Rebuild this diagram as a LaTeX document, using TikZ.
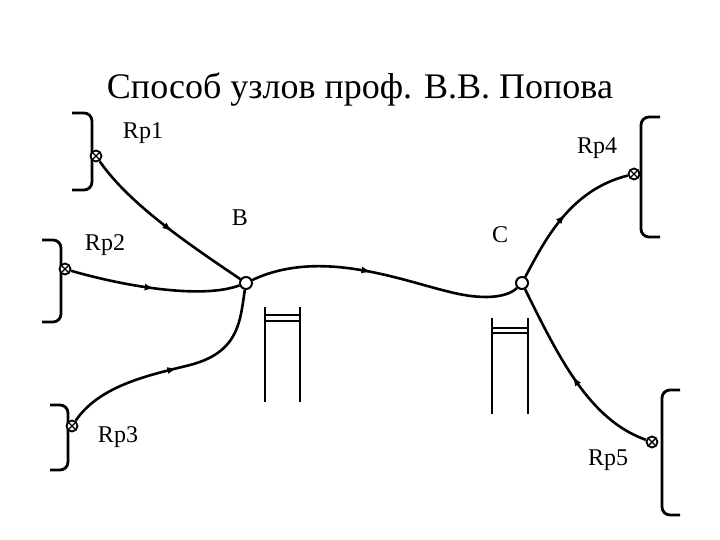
\documentclass[tikz,border=0pt]{standalone}
\usepackage{fontspec}
\setmainfont{Liberation Serif}
\usetikzlibrary{decorations.markings,arrows.meta}
\begin{document}
\begin{tikzpicture}[x=1pt,y=-1pt,
 line/.style={line width=2.6pt},
 flow/.style={line width=2.6pt,postaction={decorate},decoration={markings,mark=at position #1 with {\arrow{Latex[length=10pt,width=7pt]}}}},
 junction/.style={circle,draw,fill=white,line width=2pt,inner sep=0pt,minimum size=12pt},
 well/.style={circle,draw,fill=white,line width=1.8pt,inner sep=0pt,minimum size=11pt,path picture={\draw[line width=1.4pt] (path picture bounding box.north west)--(path picture bounding box.south east) (path picture bounding box.north east)--(path picture bounding box.south west);}},
 lbl/.style={font=\fontsize{24}{28}\selectfont},
 brk/.style={line width=2.8pt,rounded corners=8pt}]
\useasboundingbox (0,0) rectangle (720,540);
\node[font=\fontsize{36}{42}\selectfont] (title) at (360,90) {Способ узлов проф. В.В. Попова};
% brackets
\draw[brk] (72,113) -- (92,113) -- (92,190) -- (72,190);
\draw[brk] (42,240) -- (61,240) -- (61,322) -- (42,322);
\draw[brk] (50,405) -- (68,405) -- (68,470) -- (50,470);
\draw[brk] (660,117) -- (641,117) -- (641,237) -- (660,237);
\draw[brk] (680,390) -- (662,390) -- (662,515) -- (680,515);
% nodes
\node[junction] (B) at (246,283) {};
\node[junction] (C) at (522,283) {};
\node[well] (R1) at (96,156) {};
\node[well] (R2) at (65,269) {};
\node[well] (R3) at (72,426) {};
\node[well] (R4) at (634,174) {};
\node[well] (R5) at (652,442) {};
\coordinate (m3) at (190,365);
\coordinate (m4) at (450,292);
% connectors
\draw[flow=0.55] (R1) .. controls (130,205) and (190,245) .. (B);
\draw[flow=0.5] (R2) .. controls (120,285) and (200,300) .. (B);
\draw[flow=0.9] (R3) .. controls (100,385) and (150,375) .. (m3);
\draw[line] (m3) .. controls (240,352) and (240,320) .. (B);
\draw[flow=0.6] (B) .. controls (320,248) and (400,280) .. (m4);
\draw[line] (m4) .. controls (490,302) and (510,295) .. (C);
\draw[flow=0.5] (C) .. controls (545,240) and (570,190) .. (R4);
\draw[flow=0.5] (R5) .. controls (590,420) and (560,360) .. (C);
% piezometers
\draw[line] (265,307) -- (265,402) (300,307) -- (300,402) (265,315) -- (300,315) (265,321) -- (300,321);
\draw[line] (492,318) -- (492,414) (528,318) -- (528,414) (492,328) -- (528,328) (492,333) -- (528,333);
% labels
\node[lbl] (l1) at (143,133) {Rp1};
\node[lbl] (l2) at (105,245) {Rp2};
\node[lbl] (l3) at (118,437) {Rp3};
\node[lbl] (l4) at (597,148) {Rp4};
\node[lbl] (l5) at (608,460) {Rp5};
\node[lbl] (lB) at (240,218) {В};
\node[lbl] (lC) at (500,235) {С};
\end{tikzpicture}
\end{document}
